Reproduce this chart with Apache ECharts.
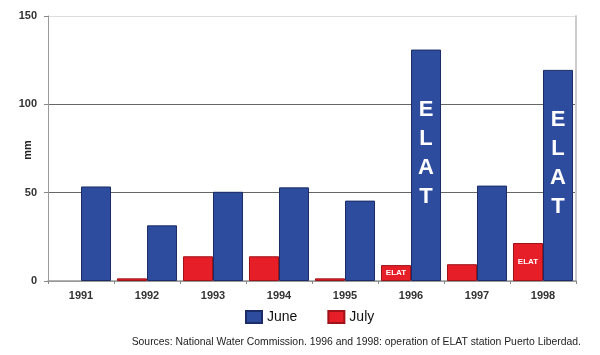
<!DOCTYPE html>
<html><head><meta charset="utf-8">
<script src="https://cdn.jsdelivr.net/npm/echarts@6/dist/echarts.min.js"></script>
<style>html,body{margin:0;padding:0;background:#fff}#c{width:600px;height:355px}</style>
</head><body><div id="c"></div>
<script>
const years = ['1991','1992','1993','1994','1995','1996','1997','1998'];
const june = [53.5, 31.5, 50.5, 53, 45.5, 131, 54, 119.5];
const july = [null, 1.5, 14, 14, 1.5, 9, 9.5, 21.5];
const elatYears = ['1996','1998'];
const yTicks = [0, 50, 100, 150];
const yName = 'mm';
const sourceText = 'Sources: National Water Commission. 1996 and 1998: operation of ELAT station Puerto Liberdad.';

const chart = echarts.init(document.getElementById('c'));
const font = 'Liberation Sans, Arial, sans-serif';
chart.setOption({
  animation: false,
  textStyle: {fontFamily: font},
  grid: {left: 48, right: 24, top: 16, bottom: 74, containLabel: false, outerBoundsMode: 'none'},
  legend: {
    data: ['June','July'], top: 305, left: 240, itemWidth: 16, itemHeight: 12, itemGap: 30,
    textStyle: {fontSize: 14, color: '#111', fontFamily: font}, icon: 'rect'
  },
  graphic: [{
    type: 'text', right: 19, top: 337,
    style: {text: sourceText, font: '10.4px ' + font, fill: '#222'}
  }, {
    type: 'text', x: 28, y: 150, rotation: Math.PI / 2,
    style: {text: yName, font: 'bold 11px ' + font, fill: '#222', align: 'center', verticalAlign: 'middle'}
  }],
  xAxis: {
    type: 'category', data: years,
    axisLine: {lineStyle: {color: '#999', width: 1.5}},
    axisTick: {show: true, length: 3, lineStyle: {color: '#888'}},
    axisLabel: {fontSize: 11, fontWeight: 'bold', color: '#333', margin: 9}
  },
  yAxis: [{
    type: 'value', min: 0, max: 150, interval: 50,
    axisLine: {show: true, lineStyle: {color: '#999'}},
    axisTick: {show: true, length: 4, lineStyle: {color: '#888'}},
    axisLabel: {fontSize: 11, fontWeight: 'bold', color: '#333', margin: 11,
      formatter: v => yTicks.includes(v) ? String(v) : ''},
    splitLine: {lineStyle: {color: ['#999','#666','#666','#ddd'], width: 1.2}}
  }, {
    type: 'value', min: 0, max: 150, interval: 50, position: 'right',
    axisLine: {show: true, lineStyle: {color: '#ccc', width: 2}},
    axisTick: {show: false}, axisLabel: {show: false}, splitLine: {show: false}
  }],
  series: [{
    name: 'July', type: 'bar', data: july, barGap: '0%', barCategoryGap: '9%',
    itemStyle: {color: '#E61E28', borderColor: '#9E1218', borderWidth: 1},
    label: {show: true, position: 'inside', color: '#fff', fontSize: 8, fontWeight: 'bold',
      formatter: p => elatYears.includes(p.name) ? 'ELAT' : ''}
  }, {
    name: 'June', type: 'bar', data: june, barGap: '0%', barCategoryGap: '9%',
    itemStyle: {color: '#2E4C9E', borderColor: '#1C2C66', borderWidth: 1},
    label: {show: true, position: 'inside', color: '#fff', fontSize: 22, fontWeight: 'bold',
      lineHeight: 29, offset: [0, -12],
      formatter: p => elatYears.includes(p.name) ? 'E\nL\nA\nT' : ''}
  }]
});
</script></body></html>
